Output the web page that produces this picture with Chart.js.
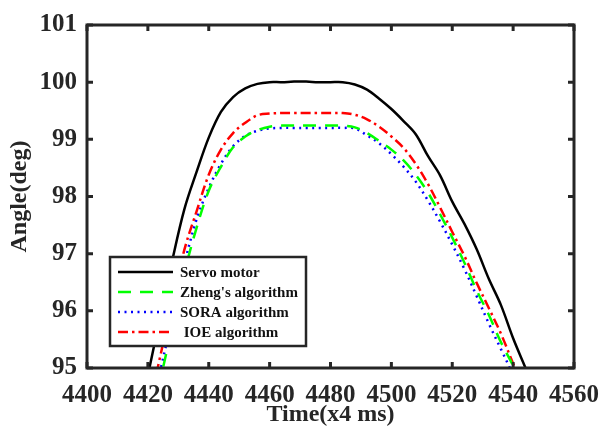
<!DOCTYPE html>
<html>
<head>
<meta charset="utf-8">
<script src="https://cdn.jsdelivr.net/npm/chart.js@4"></script>
<style>
    html, body { margin: 0; padding: 0; background: #fff; }
    #wrap { width: 612px; height: 435px; }
</style>
</head>
<body>
<div id="wrap"><canvas id="angleChart" width="612" height="435"></canvas></div>
<script>
const timeSteps = [4420, 4424, 4428, 4432, 4436, 4440, 4444, 4448, 4452, 4456, 4460, 4464, 4468, 4472, 4476, 4480, 4484,
    4488, 4492, 4496, 4500, 4504, 4508, 4512, 4516, 4520, 4524, 4528, 4532, 4536, 4540, 4544, 4548];
const servoMotor = [94.87, 95.88, 96.88, 97.78, 98.43, 99.03, 99.48, 99.74, 99.89, 99.97, 100.0, 100.0, 100.01, 100.01, 100.0, 100.0, 100.0,
    99.96, 99.87, 99.71, 99.53, 99.32, 99.09, 98.71, 98.37, 97.91, 97.52, 97.08, 96.56, 96.1, 95.52, 95.01, 94.5];
const zhengAlgorithm = [93.9, 94.78, 95.72, 96.67, 97.45, 98.1, 98.52, 98.86, 99.05, 99.16, 99.22, 99.24, 99.24, 99.24, 99.24, 99.24, 99.24,
    99.21, 99.11, 98.97, 98.82, 98.63, 98.38, 98.07, 97.69, 97.28, 96.84, 96.36, 95.93, 95.45, 95.04, 94.6, 94.1];
const soraAlgorithm = [93.9, 94.93, 95.87, 96.82, 97.6, 98.15, 98.57, 98.88, 99.06, 99.15, 99.19, 99.2, 99.2, 99.2, 99.2, 99.2, 99.2,
    99.19, 99.07, 98.93, 98.74, 98.52, 98.26, 97.93, 97.56, 97.16, 96.73, 96.26, 95.78, 95.33, 94.88, 94.4, 93.9];
const ioeAlgorithm = [94.2, 95.19, 96.13, 97.07, 97.74, 98.38, 98.82, 99.11, 99.29, 99.42, 99.45, 99.46, 99.46, 99.46, 99.46, 99.46, 99.46,
    99.43, 99.35, 99.22, 99.05, 98.85, 98.57, 98.22, 97.81, 97.38, 96.96, 96.49, 96.05, 95.6, 95.08, 94.6, 94.1];
const seriesNames = ['Servo motor', "Zheng's algorithm", 'SORA algorithm', ' IOE algorithm'];
const xTickValues = [4400, 4420, 4440, 4460, 4480, 4500, 4520, 4540, 4560];
const yTickValues = [95, 96, 97, 98, 99, 100, 101];

const serif = "'Liberation Serif', 'Times New Roman', serif";
const frameColor = '#262626';

function toPoints(values) {
    return timeSteps.map((t, i) => ({ x: t, y: values[i] }));
}

// frame round the plot with inward ticks, like the original figure
const framePlugin = {
    id: 'frame',
    afterDatasetsDraw(chart) {
        const ctx = chart.ctx;
        const area = chart.chartArea;
        const xs = chart.scales.x;
        const ys = chart.scales.y;
        ctx.save();
        ctx.strokeStyle = frameColor;
        ctx.lineWidth = 3;
        ctx.strokeRect(area.left, area.top, area.right - area.left, area.bottom - area.top);
        ctx.beginPath();
        xTickValues.forEach(v => {
            const px = xs.getPixelForValue(v);
            ctx.moveTo(px, area.bottom);
            ctx.lineTo(px, area.bottom - 6);
            ctx.moveTo(px, area.top);
            ctx.lineTo(px, area.top + 6);
        });
        yTickValues.forEach(v => {
            const py = ys.getPixelForValue(v);
            ctx.moveTo(area.left, py);
            ctx.lineTo(area.left + 6, py);
            ctx.moveTo(area.right, py);
            ctx.lineTo(area.right - 6, py);
        });
        ctx.stroke();
        ctx.restore();
    }
};

// boxed legend inside the lower left of the plot
const boxLegendPlugin = {
    id: 'boxLegend',
    afterDraw(chart) {
        const ctx = chart.ctx;
        const left = 110, top = 257, width = 196, height = 89;
        ctx.save();
        ctx.fillStyle = '#fff';
        ctx.fillRect(left, top, width, height);
        ctx.strokeStyle = frameColor;
        ctx.lineWidth = 2.5;
        ctx.strokeRect(left, top, width, height);
        ctx.font = 'bold 15px ' + serif;
        ctx.textBaseline = 'middle';
        chart.data.datasets.forEach((ds, i) => {
            const y = top + 15 + i * 20;
            ctx.strokeStyle = ds.borderColor;
            ctx.lineWidth = ds.borderWidth;
            ctx.setLineDash(ds.borderDash || []);
            ctx.beginPath();
            ctx.moveTo(left + 8, y);
            ctx.lineTo(left + 63, y);
            ctx.stroke();
            ctx.setLineDash([]);
            ctx.fillStyle = '#111';
            ctx.fillText(ds.label, left + 70, y + 1);
        });
        ctx.restore();
    }
};

new Chart(document.getElementById('angleChart'), {
    type: 'line',
    data: {
        datasets: [{
            label: seriesNames[0],
            data: toPoints(servoMotor),
            borderColor: '#000000',
            borderWidth: 2.5,
            pointRadius: 0,
            tension: 0.35
        }, {
            label: seriesNames[1],
            data: toPoints(zhengAlgorithm),
            borderColor: '#00ff00',
            borderWidth: 2.5,
            borderDash: [13, 9],
            pointRadius: 0,
            tension: 0.35
        }, {
            label: seriesNames[2],
            data: toPoints(soraAlgorithm),
            borderColor: '#0000ff',
            borderWidth: 2.5,
            borderDash: [2, 4.5],
            pointRadius: 0,
            tension: 0.35
        }, {
            label: seriesNames[3],
            data: toPoints(ioeAlgorithm),
            borderColor: '#ff0000',
            borderWidth: 2.5,
            borderDash: [10, 4, 2.5, 4],
            pointRadius: 0,
            tension: 0.35
        }]
    },
    options: {
        responsive: false,
        animation: false,
        layout: {
            padding: { left: 0, top: 23, right: 34, bottom: 0 }
        },
        plugins: {
            legend: { display: false },
            tooltip: { enabled: false }
        },
        scales: {
            x: {
                type: 'linear',
                min: 4400,
                max: 4560,
                afterFit: s => { s.height = 67; },
                afterBuildTicks: s => { s.ticks = xTickValues.map(v => ({ value: v })); },
                grid: { display: false, drawTicks: false },
                border: { display: false },
                ticks: {
                    padding: 13,
                    color: '#262626',
                    callback: v => String(v),
                    font: { family: serif, size: 25, weight: 'bold' }
                },
                title: {
                    display: true,
                    text: 'Time(x4 ms)',
                    color: '#262626',
                    padding: { top: 0, bottom: 6 },
                    font: { family: serif, size: 24, weight: 'bold' }
                }
            },
            y: {
                min: 95,
                max: 101,
                afterFit: s => { s.width = 87; },
                afterBuildTicks: s => { s.ticks = yTickValues.map(v => ({ value: v })); },
                grid: { display: false, drawTicks: false },
                border: { display: false },
                ticks: {
                    padding: 10,
                    color: '#262626',
                    callback: v => String(v),
                    font: { family: serif, size: 25, weight: 'bold' }
                },
                title: {
                    display: true,
                    text: 'Angle(deg)',
                    color: '#262626',
                    padding: { top: 5, bottom: 0 },
                    font: { family: serif, size: 24, weight: 'bold' }
                }
            }
        }
    },
    plugins: [framePlugin, boxLegendPlugin]
});
</script>
</body>
</html>
